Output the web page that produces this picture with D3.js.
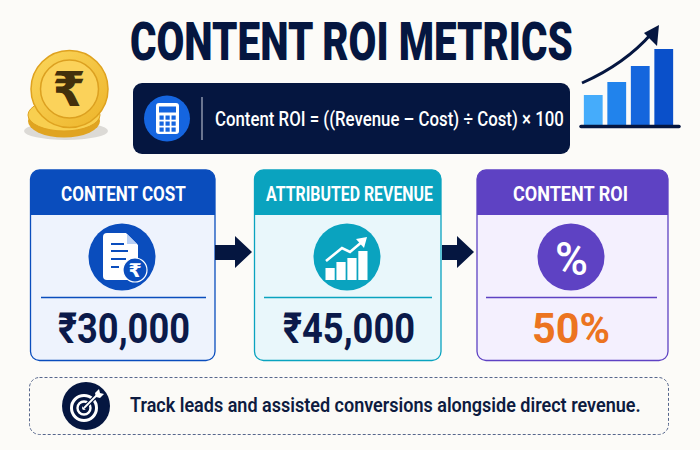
<!DOCTYPE html>
<html>
<head>
<meta charset="utf-8">
<script src="https://cdn.jsdelivr.net/npm/d3@7"></script>
<style>
  html, body { margin: 0; padding: 0; background: #fcfbf8; overflow: hidden; }
  svg { display: block; }
  text { font-family: Roboto, "Noto Sans", "DejaVu Sans", sans-serif; }
</style>
</head>
<body>
<div id="chart"></div>
<script>
// Data
const titleText = "CONTENT ROI METRICS";
const formulaText = "Content ROI = ((Revenue \u2013 Cost) \u00f7 Cost) \u00d7 100";
const noteText = "Track leads and assisted conversions alongside direct revenue.";
const cardTitles = ["CONTENT COST", "ATTRIBUTED REVENUE", "CONTENT ROI"];
const cardValues = ["\u20b930,000", "\u20b945,000", "50%"];
const trendBars = [31, 44, 60, 77];      // top right picture
const revenueBars = [12, 18, 22, 29];    // icon in the teal card

const width = 700;
const height = 450;
const navy = "#051640";

// card geometry
const cardX0 = [30.5, 254.5, 477];
const cardX1 = [215, 441, 668];
const cardTop = 170, cardBottom = 360.5, headBottom = 215;
const headFill = ["#0a4dbd", "#0aa3bf", "#5e42c3"];
const bodyFill = ["#eef3fd", "#e9f7fb", "#f4f0fe"];
const valueFill = ["#0b1a4a", "#0b1a4a", "#ec7420"];
const titleX = [[61, 186], [266, 433], [513, 628]];
const valueX = [[58, 190], [283, 415], [532, 610]];
const ruleX = [[41, 206], [264, 432], [486, 657]];
const iconX = [122, 347, 571];
const iconY = 257;

const svg = d3.select("#chart").append("svg")
    .attr("width", width)
    .attr("height", height);

svg.append("rect").attr("width", width).attr("height", height).attr("fill", "#fcfbf8");

const defs = svg.append("defs");
const coinGrad = defs.append("linearGradient").attr("id", "coin")
    .attr("x1", 0).attr("y1", 0).attr("x2", 1).attr("y2", 1);
coinGrad.append("stop").attr("offset", 0).attr("stop-color", "#fbd65c");
coinGrad.append("stop").attr("offset", 1).attr("stop-color", "#edb42a");

// text squeezed to a given span, the reference type is narrower than Roboto
function label(g, txt, x0, x1, base, size, fill, weight) {
    const t = g.append("text")
        .attr("font-size", size)
        .attr("font-weight", weight || 700)
        .attr("fill", fill)
        .text(txt);
    const sx = (x1 - x0) / t.node().getComputedTextLength();
    t.attr("transform", `translate(${x0},${base}) scale(${sx},1)`);
    return t;
}

// Title
label(svg, titleText, 130, 573, 60, 53.5, navy, 900);

// Coins
const coins = svg.append("g");
coins.append("ellipse").attr("cx", 66).attr("cy", 131).attr("rx", 42).attr("ry", 9).attr("fill", "#dcdad6");
coins.append("ellipse").attr("cx", 64).attr("cy", 121).attr("rx", 36).attr("ry", 16.5).attr("fill", "#e0a421");
coins.append("ellipse").attr("cx", 64).attr("cy", 115).attr("rx", 36).attr("ry", 16).attr("fill", "#f8cf50").attr("stroke", "#dfa21f");
coins.append("circle").attr("cx", 73).attr("cy", 86).attr("r", 33).attr("fill", "#e6ac26");
coins.append("circle").attr("cx", 69.5).attr("cy", 89).attr("r", 38.5).attr("fill", "url(#coin)").attr("stroke", "#dfa21f").attr("stroke-width", 1.5);
coins.append("circle").attr("cx", 69.5).attr("cy", 89).attr("r", 29).attr("fill", "#fbd25a").attr("stroke", "#dca020").attr("stroke-width", 1.5);
coins.append("text")
    .attr("x", 69).attr("y", 106)
    .attr("text-anchor", "middle")
    .attr("font-size", 48)
    .attr("font-weight", 700)
    .attr("fill", "#43300c")
    .style("font-family", "'DejaVu Sans'")
    .text("\u20b9");

// Trend picture
const trendX = d3.scaleBand().domain(d3.range(trendBars.length)).range([581.5, 675.5]).paddingInner(0.2).paddingOuter(0.1);
const trendY = d3.scaleLinear().domain([0, 77]).range([126, 49]);
const trendFill = ["#45acfb", "#2183ec", "#1566dd", "#0a50ca"];
svg.append("g").selectAll("rect")
    .data(trendBars)
    .join("rect")
    .attr("x", (d, i) => trendX(i))
    .attr("y", d => trendY(d))
    .attr("width", trendX.bandwidth())
    .attr("height", d => trendY(0) - trendY(d))
    .attr("fill", (d, i) => trendFill[i]);
svg.append("line").attr("x1", 581).attr("x2", 679).attr("y1", 126.5).attr("y2", 126.5)
    .attr("stroke", navy).attr("stroke-width", 3.5).attr("stroke-linecap", "round");
svg.append("path").attr("d", "M582,83 Q625,64 652,33")
    .attr("fill", "none").attr("stroke", navy).attr("stroke-width", 3);
svg.append("path").attr("d", "M659,25 L657,46 L644,33 Z").attr("fill", navy);

// Formula panel
svg.append("rect")
    .attr("x", 133).attr("y", 83).attr("width", 437).attr("height", 71).attr("rx", 9)
    .attr("fill", navy);
svg.append("circle").attr("cx", 167).attr("cy", 118.5).attr("r", 23).attr("fill", "#1565e0");
svg.append("rect").attr("x", 156).attr("y", 103).attr("width", 23).attr("height", 31).attr("rx", 3).attr("fill", "#fff");
svg.append("rect").attr("x", 159).attr("y", 106.5).attr("width", 17).attr("height", 6).attr("fill", "#1565e0");
const calcKeys = d3.cross(d3.range(3), d3.range(3));
svg.append("g").selectAll("rect")
    .data(calcKeys)
    .join("rect")
    .attr("x", d => 159.5 + d[0] * 6)
    .attr("y", d => 115.5 + d[1] * 6)
    .attr("width", 4.2)
    .attr("height", 4.2)
    .attr("fill", "#1565e0");
svg.append("line").attr("x1", 202).attr("x2", 202).attr("y1", 97).attr("y2", 140)
    .attr("stroke", "#aeb6c6").attr("stroke-width", 1.2);
label(svg, formulaText, 215, 564, 126, 21, "#fff", 500);

// Cards
const cards = svg.selectAll("g.card")
    .data(cardTitles)
    .join("g")
    .attr("class", "card");

cards.append("rect")
    .attr("x", (d, i) => cardX0[i])
    .attr("y", cardTop)
    .attr("width", (d, i) => cardX1[i] - cardX0[i])
    .attr("height", cardBottom - cardTop)
    .attr("rx", 9)
    .attr("fill", (d, i) => bodyFill[i])
    .attr("stroke", (d, i) => headFill[i])
    .attr("stroke-width", 1.3);

// header with rounded top corners only
cards.append("path")
    .attr("d", (d, i) => {
        const p = d3.path();
        p.moveTo(cardX0[i], headBottom);
        p.lineTo(cardX0[i], cardTop + 9);
        p.arcTo(cardX0[i], cardTop, cardX0[i] + 9, cardTop, 9);
        p.lineTo(cardX1[i] - 9, cardTop);
        p.arcTo(cardX1[i], cardTop, cardX1[i], cardTop + 9, 9);
        p.lineTo(cardX1[i], headBottom);
        p.closePath();
        return p.toString();
    })
    .attr("fill", (d, i) => headFill[i]);

cards.each(function(d, i) {
    const g = d3.select(this);
    label(g, d, titleX[i][0], titleX[i][1], 201, 20.5, "#fff", 700);
    g.append("circle").attr("cx", iconX[i]).attr("cy", iconY).attr("r", 33.5).attr("fill", headFill[i]);
    g.append("line")
        .attr("x1", ruleX[i][0]).attr("x2", ruleX[i][1])
        .attr("y1", 297.5).attr("y2", 297.5)
        .attr("stroke", headFill[i]).attr("stroke-width", 1.3);
    label(g, cardValues[i], valueX[i][0], valueX[i][1], 343, 43, valueFill[i], 700);
});

// Arrows between the cards
const arrowStart = [215, 442];
const arrowEnd = [252, 474];
svg.append("g").selectAll("path")
    .data(arrowStart)
    .join("path")
    .attr("d", (d, i) => {
        const e = arrowEnd[i];
        const h = e - 17;
        return `M${d},245 H${h} V236 L${e},252 L${h},268 V260 H${d} Z`;
    })
    .attr("fill", navy);

// Document icon
const doc = svg.append("g");
doc.append("path").attr("d", "M107,233 H126 L138,245 V276 Q138,280 134,280 H107 Q103,280 103,276 V237 Q103,233 107,233 Z").attr("fill", "#fff");
doc.append("path").attr("d", "M127,234 L137,244 H127 Z").attr("fill", "#b9d0f5");
doc.append("g").selectAll("line")
    .data([[111, 124, 244], [111, 128, 251], [111, 126, 259], [111, 119, 267]])
    .join("line")
    .attr("x1", d => d[0]).attr("x2", d => d[1])
    .attr("y1", d => d[2]).attr("y2", d => d[2])
    .attr("stroke", headFill[0]).attr("stroke-width", 2);
doc.append("circle").attr("cx", 135).attr("cy", 270).attr("r", 12).attr("fill", headFill[0]).attr("stroke", "#fff").attr("stroke-width", 1.2);
doc.append("text")
    .attr("x", 135).attr("y", 277)
    .attr("text-anchor", "middle")
    .attr("font-size", 19)
    .attr("font-weight", 700)
    .attr("fill", "#fff")
    .style("font-family", "'DejaVu Sans'")
    .text("\u20b9");

// Revenue icon
const revX = d3.scaleBand().domain(d3.range(revenueBars.length)).range([325.5, 367.5]).paddingInner(0.16);
const revY = d3.scaleLinear().domain([0, 29]).range([280, 251]);
svg.append("g").selectAll("rect")
    .data(revenueBars)
    .join("rect")
    .attr("x", (d, i) => revX(i))
    .attr("y", d => revY(d))
    .attr("width", revX.bandwidth())
    .attr("height", d => revY(0) - revY(d))
    .attr("fill", "#fff");
svg.append("path").attr("d", "M326,261 L342,248 L350,252 L363,241")
    .attr("fill", "none").attr("stroke", "#fff").attr("stroke-width", 2.6);
svg.append("path").attr("d", "M367,237 L364,248 L356,239 Z").attr("fill", "#fff");

// Percent icon
label(svg, "%", 555, 588, 275, 46, "#fff", 500);

// Bottom note
svg.append("rect")
    .attr("x", 29.5).attr("y", 377.5).attr("width", 639).attr("height", 57).attr("rx", 10)
    .attr("fill", "#fbfaf7")
    .attr("stroke", "#56668c")
    .attr("stroke-width", 1)
    .attr("stroke-dasharray", "3 2");
const target = svg.append("g");
target.append("circle").attr("cx", 86).attr("cy", 406).attr("r", 24).attr("fill", navy);
target.append("circle").attr("cx", 84).attr("cy", 408).attr("r", 12.5).attr("fill", "none").attr("stroke", "#fff").attr("stroke-width", 3);
target.append("circle").attr("cx", 84).attr("cy", 408).attr("r", 6.5).attr("fill", "none").attr("stroke", "#fff").attr("stroke-width", 2.4);
target.append("circle").attr("cx", 84).attr("cy", 408).attr("r", 2).attr("fill", "#fff");
target.append("line").attr("x1", 84).attr("y1", 408).attr("x2", 97).attr("y2", 395)
    .attr("stroke", navy).attr("stroke-width", 4);
target.append("line").attr("x1", 84).attr("y1", 408).attr("x2", 97).attr("y2", 395)
    .attr("stroke", "#fff").attr("stroke-width", 1.8);
target.append("path").attr("d", "M95,393 L99,389 L100,393 L104,394 L100,398 L96,397 Z").attr("fill", "#fff");
label(svg, noteText, 130, 641, 412, 19.5, "#0d1b40", 600);
</script>
</body>
</html>
